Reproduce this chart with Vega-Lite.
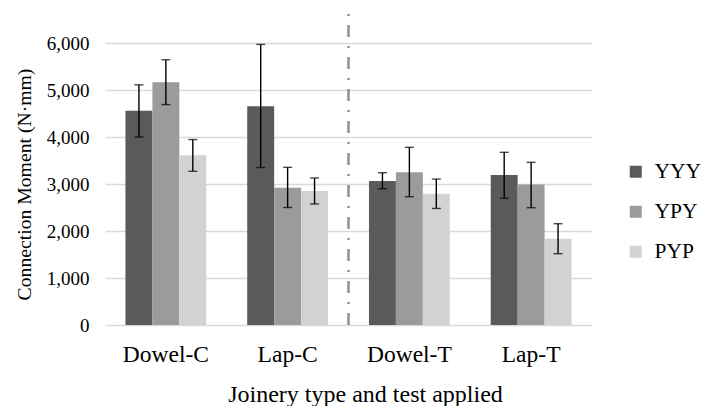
{
  "$schema": "https://vega.github.io/schema/vega-lite/v6.json",
  "width": 487,
  "height": 282,
  "autosize": "none",
  "padding": {"left": 105, "top": 43, "right": 117, "bottom": 81},
  "background": "white",
  "config": {
    "view": {"stroke": null},
    "font": "Liberation Serif"
  },
  "data": {
    "values": [
      {"joint": "Dowel-C", "series": "YYY", "value": 4560, "lo": 4000, "hi": 5110},
      {"joint": "Dowel-C", "series": "YPY", "value": 5165, "lo": 4690, "hi": 5645},
      {"joint": "Dowel-C", "series": "PYP", "value": 3610, "lo": 3270, "hi": 3945},
      {"joint": "Lap-C", "series": "YYY", "value": 4655, "lo": 3350, "hi": 5970},
      {"joint": "Lap-C", "series": "YPY", "value": 2920, "lo": 2500, "hi": 3355},
      {"joint": "Lap-C", "series": "PYP", "value": 2850, "lo": 2575, "hi": 3128},
      {"joint": "Dowel-T", "series": "YYY", "value": 3065, "lo": 2900, "hi": 3240},
      {"joint": "Dowel-T", "series": "YPY", "value": 3250, "lo": 2730, "hi": 3780},
      {"joint": "Dowel-T", "series": "PYP", "value": 2790, "lo": 2480, "hi": 3105},
      {"joint": "Lap-T", "series": "YYY", "value": 3190, "lo": 2695, "hi": 3674},
      {"joint": "Lap-T", "series": "YPY", "value": 2990, "lo": 2496, "hi": 3461},
      {"joint": "Lap-T", "series": "PYP", "value": 1836, "lo": 1517, "hi": 2155}
    ]
  },
  "encoding": {
    "x": {
      "field": "joint",
      "type": "nominal",
      "sort": ["Dowel-C", "Lap-C", "Dowel-T", "Lap-T"],
      "scale": {"paddingInner": 0, "paddingOuter": 0},
      "axis": {
        "title": "Joinery type and test applied",
        "labelAngle": 0,
        "labelFont": "serif",
        "labelFontSize": 23.5,
        "labelFontWeight": "normal",
        "labelColor": "#000000",
        "labelPadding": 17,
        "domain": false,
        "ticks": false,
        "titleFont": "Liberation Serif",
        "titleFontSize": 24,
        "titleFontWeight": "normal",
        "titleColor": "#000000",
        "titleX": 260,
        "titleY": 57,
        "titleBaseline": "top"
      }
    },
    "xOffset": {
      "field": "series",
      "type": "nominal",
      "sort": ["YYY", "YPY", "PYP"],
      "scale": {"paddingInner": 0, "paddingOuter": 0.76}
    }
  },
  "layer": [
    {
      "mark": {"type": "bar", "clip": false},
      "encoding": {
        "y": {
          "field": "value",
          "type": "quantitative",
          "scale": {"domain": [0, 6000], "nice": false},
          "axis": {
            "title": "Connection Moment (N·mm)",
            "values": [0, 1000, 2000, 3000, 4000, 5000, 6000],
            "format": ",.0f",
            "labelFont": "Times New Roman",
            "labelFontSize": 19,
            "labelFontWeight": "normal",
            "labelColor": "#000000",
            "labelPadding": 16,
            "domain": false,
            "ticks": false,
            "grid": true,
            "gridColor": "#d9d9d9",
            "gridWidth": 1.5,
            "titleFont": "Liberation Serif",
            "titleFontSize": 19.7,
            "titleFontWeight": "normal",
            "titleColor": "#000000",
            "titlePadding": 12
          }
        },
        "color": {
          "field": "series",
          "type": "nominal",
          "sort": ["YYY", "YPY", "PYP"],
          "scale": {"domain": ["YYY", "YPY", "PYP"], "range": ["#5a5a5a", "#9b9b9b", "#d2d2d2"]},
          "legend": {
            "title": null,
            "orient": "none",
            "legendX": 520,
            "legendY": 118,
            "symbolType": "square",
            "symbolSize": 144,
            "symbolStrokeWidth": 0,
            "symbolOpacity": 1,
            "labelFont": "Liberation Serif",
            "labelFontWeight": "normal",
            "labelFontSize": 21.5,
            "labelColor": "#000000",
            "labelOffset": 8,
            "rowPadding": 17
          }
        }
      }
    },
    {
      "mark": {"type": "rule", "color": "#000000", "strokeWidth": 1.4},
      "encoding": {
        "y": {"field": "lo", "type": "quantitative"},
        "y2": {"field": "hi"}
      }
    },
    {
      "mark": {"type": "tick", "color": "#000000", "thickness": 1.4, "size": 9, "orient": "horizontal"},
      "encoding": {
        "y": {"field": "lo", "type": "quantitative"}
      }
    },
    {
      "mark": {"type": "tick", "color": "#000000", "thickness": 1.4, "size": 9, "orient": "horizontal"},
      "encoding": {
        "y": {"field": "hi", "type": "quantitative"}
      }
    },
    {
      "data": {"values": [{"joint": "Lap-C", "y0": 0, "y1": 6640}]},
      "mark": {"type": "rule", "color": "#8c8c8c", "strokeWidth": 2.4, "strokeDash": [12, 9, 2, 9], "clip": false},
      "encoding": {
        "x": {"field": "joint", "type": "nominal", "bandPosition": 1},
        "xOffset": null,
        "y": {"field": "y0", "type": "quantitative"},
        "y2": {"field": "y1"}
      }
    }
  ]
}
